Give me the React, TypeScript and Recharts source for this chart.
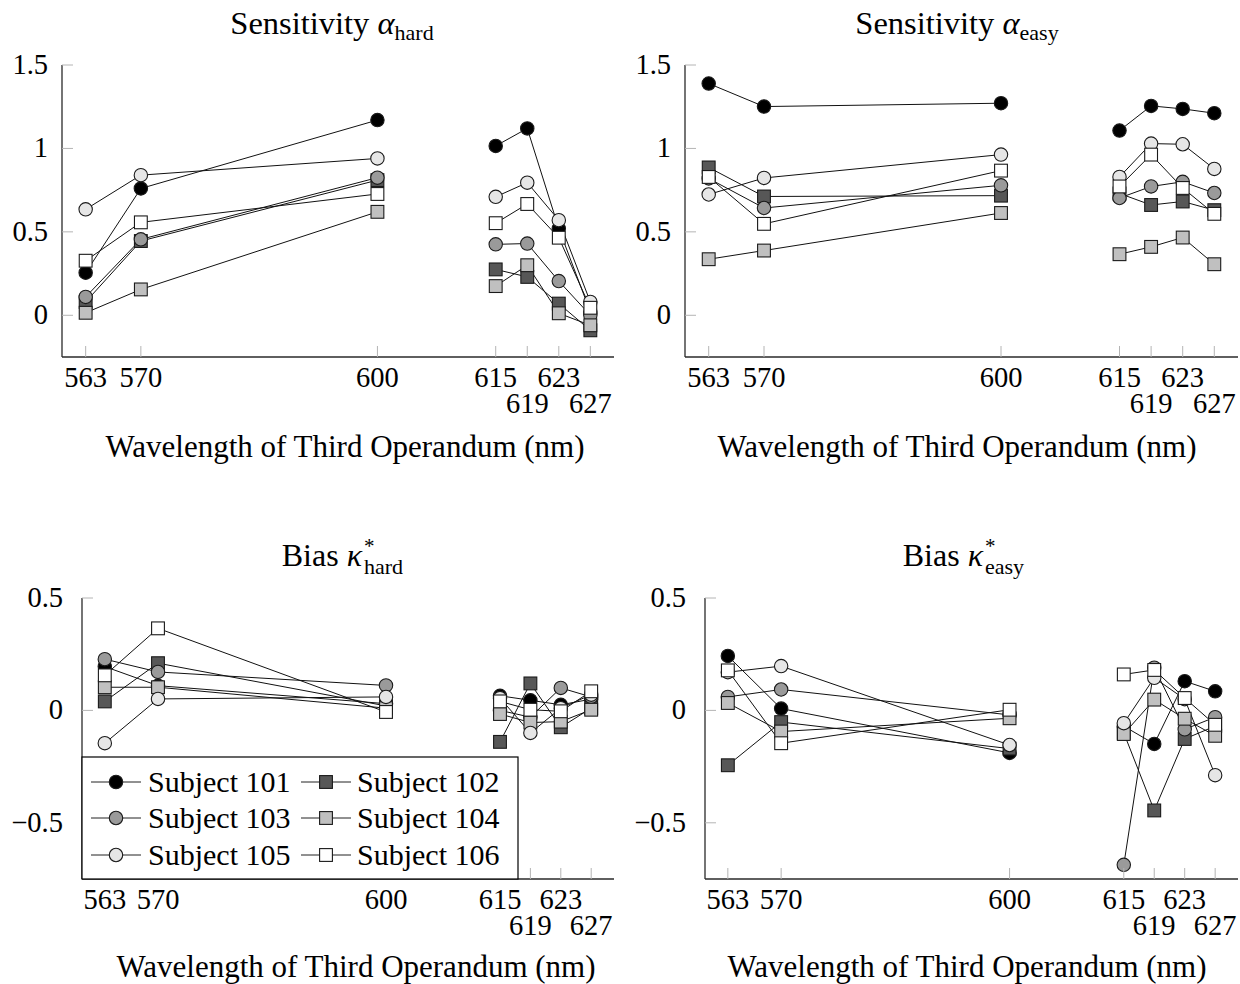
import React from 'react';
import { LineChart, Line, XAxis, YAxis } from 'recharts';

const wavelengths = [563, 570, 600, 615, 619, 623, 627];
const breakWavelength = 607;
const secondRowTicks = [619, 627];
const subjectNames = ['Subject 101', 'Subject 102', 'Subject 103', 'Subject 104', 'Subject 105', 'Subject 106'];
const markerShapes = ['circle', 'square', 'circle', 'square', 'circle', 'square'];
const markerFills = ['#000000', '#575757', '#9a9a9a', '#c0c0c0', '#e6e6e6', '#ffffff'];

// rows: Subject 101..106, columns: wavelengths
const alphaHard = [
  [0.255, 0.76, 1.17, 1.015, 1.12, 0.52, 0.02],
  [0.08, 0.445, 0.81, 0.275, 0.23, 0.07, -0.09],
  [0.11, 0.455, 0.825, 0.425, 0.43, 0.205, 0.0],
  [0.015, 0.155, 0.62, 0.175, 0.3, 0.012, -0.06],
  [0.635, 0.84, 0.94, 0.71, 0.795, 0.57, 0.08],
  [0.327, 0.557, 0.727, 0.552, 0.667, 0.465, 0.045],
];
const alphaEasy = [
  [1.389, 1.251, 1.271, 1.107, 1.255, 1.237, 1.211],
  [0.886, 0.712, 0.717, 0.73, 0.661, 0.682, 0.63],
  [0.82, 0.643, 0.779, 0.703, 0.772, 0.8, 0.733],
  [0.336, 0.388, 0.613, 0.366, 0.41, 0.466, 0.306],
  [0.724, 0.823, 0.963, 0.829, 1.029, 1.025, 0.877],
  [0.829, 0.548, 0.867, 0.772, 0.963, 0.763, 0.608],
];
const kappaHard = [
  [0.195, 0.11, 0.03, 0.065, 0.045, 0.025, 0.05],
  [0.04, 0.21, 0.02, -0.14, 0.12, -0.075, 0.01],
  [0.228, 0.171, 0.111, 0.0, -0.03, 0.1, 0.06],
  [0.103, 0.103, 0.01, -0.016, -0.054, -0.05, 0.003],
  [-0.146, 0.051, 0.06, 0.055, -0.1, 0.01, 0.07],
  [0.156, 0.365, -0.007, 0.04, 0.003, -0.004, 0.085],
];
const kappaEasy = [
  [0.242, 0.008, -0.189, -0.07, -0.149, 0.13, 0.085],
  [-0.244, -0.052, -0.17, -0.1, -0.445, -0.127, -0.07],
  [0.06, 0.093, -0.02, -0.687, 0.19, -0.084, -0.03],
  [0.033, -0.094, -0.035, -0.105, 0.048, -0.037, -0.113],
  [0.17, 0.197, -0.154, -0.057, 0.145, 0.05, -0.288],
  [0.178, -0.146, 0.003, 0.16, 0.18, 0.055, -0.064],
];

const alphaTicks = [0, 0.5, 1, 1.5];
const kappaTicks = [-0.5, 0, 0.5];
const alphaDomain: [number, number] = [-0.25, 1.5];
const kappaDomain: [number, number] = [-0.75, 0.5];
const xDomain: [number, number] = [560, 630];

const FONT = '"Liberation Serif", "Times New Roman", serif';

function buildRows(values: number[][]) {
  const rows: any[] = wavelengths.map((w, i) => {
    const r: any = { x: w };
    values.forEach((s, k) => {
      r['s' + k] = s[i];
    });
    return r;
  });
  rows.splice(3, 0, { x: breakWavelength });
  return rows;
}

function fmtY(v: number) {
  if (v === 0) return '0';
  return (v < 0 ? '\u2212' : '') + String(Math.abs(v));
}

const makeDot = (k: number) => (props: any) => {
  const { cx, cy, index } = props;
  const key = `d${k}-${index}`;
  if (cx == null || cy == null || Number.isNaN(cx) || Number.isNaN(cy)) return <g key={key} />;
  if (markerShapes[k] === 'circle') {
    return <circle key={key} cx={cx} cy={cy} r={6.7} fill={markerFills[k]} stroke="#1a1a1a" strokeWidth={1.1} />;
  }
  return (
    <rect key={key} x={cx - 6.4} y={cy - 6.4} width={12.8} height={12.8} fill={markerFills[k]} stroke="#1a1a1a" strokeWidth={1.1} />
  );
};

const XTick = (props: any) => {
  const { x, y, payload } = props;
  const second = secondRowTicks.includes(payload.value);
  return (
    <g>
      <line x1={x} x2={x} y1={y} y2={y - 11} stroke="#b4b4b4" strokeWidth={1} />
      <text x={x} y={y + (second ? 56 : 30)} textAnchor="middle" fontSize={28.5} fontFamily={FONT} fill="#000">
        {payload.value}
      </text>
    </g>
  );
};

const makeYTick = (gap: number) => (props: any) => {
  const { x, y, payload } = props;
  return (
    <g>
      <line x1={x} x2={x + 11} y1={y} y2={y} stroke="#b4b4b4" strokeWidth={1} />
      <text x={x - gap} y={y + 9} textAnchor="end" fontSize={28.5} fontFamily={FONT} fill="#000">
        {fmtY(payload.value)}
      </text>
    </g>
  );
};

type PanelProps = {
  x0: number;
  x1: number;
  y0: number;
  y1: number;
  values: number[][];
  domain: [number, number];
  ticks: number[];
  gap: number;
};

function Panel(p: PanelProps) {
  const cl = p.x0 - 80;
  const ct = p.y0 - 20;
  const yW = 40;
  const xH = 70;
  const width = p.x1 - cl + 12;
  const height = p.y1 - ct + xH + 4;
  const rows = buildRows(p.values);
  return (
    <div style={{ position: 'absolute', left: cl, top: ct, width, height }}>
      <LineChart width={width} height={height} data={rows} margin={{ left: 40, top: 20, right: 12, bottom: 4 }}>
        <XAxis
          type="number"
          dataKey="x"
          domain={xDomain}
          ticks={wavelengths}
          interval={0}
          tickSize={0}
          tickMargin={0}
          tickLine={false}
          tick={XTick}
          height={xH}
          allowDataOverflow
          axisLine={{ stroke: '#2a2a2a', strokeWidth: 1.3 }}
        />
        <YAxis
          type="number"
          domain={p.domain}
          ticks={p.ticks}
          interval={0}
          tickSize={0}
          tickMargin={0}
          tickLine={false}
          tick={makeYTick(p.gap)}
          width={yW}
          allowDataOverflow
          axisLine={{ stroke: '#2a2a2a', strokeWidth: 1.3 }}
        />
        {p.values.map((_, k) => (
          <Line
            key={k}
            dataKey={'s' + k}
            name={subjectNames[k]}
            stroke="#111"
            strokeWidth={1}
            dot={makeDot(k)}
            activeDot={false}
            connectNulls={false}
            isAnimationActive={false}
          />
        ))}
      </LineChart>
    </div>
  );
}

function LegendMarker({ k, cx, cy }: { k: number; cx: number; cy: number }) {
  return (
    <g>
      <line x1={cx - 25} x2={cx + 25} y1={cy} y2={cy} stroke="#222" strokeWidth={1} />
      {markerShapes[k] === 'circle' ? (
        <circle cx={cx} cy={cy} r={6.7} fill={markerFills[k]} stroke="#1a1a1a" strokeWidth={1.1} />
      ) : (
        <rect x={cx - 6.4} y={cy - 6.4} width={12.8} height={12.8} fill={markerFills[k]} stroke="#1a1a1a" strokeWidth={1.1} />
      )}
    </g>
  );
}

const panels = [
  { x0: 62, x1: 614, y0: 65, y1: 357, values: alphaHard, domain: alphaDomain, ticks: alphaTicks, gap: 14 },
  { x0: 685, x1: 1238, y0: 65, y1: 357, values: alphaEasy, domain: alphaDomain, ticks: alphaTicks, gap: 14 },
  { x0: 82, x1: 614, y0: 598, y1: 879, values: kappaHard, domain: kappaDomain, ticks: kappaTicks, gap: 19 },
  { x0: 705, x1: 1238, y0: 598, y1: 879, values: kappaEasy, domain: kappaDomain, ticks: kappaTicks, gap: 19 },
];

function BiasTitle({ x, sub }: { x: number; sub: string }) {
  return (
    <g>
      <text x={x} y={566} textAnchor="end" fontSize={32}>
        Bias <tspan fontStyle="italic">κ</tspan>
      </text>
      <text x={x + 2} y={553} textAnchor="start" fontSize={21}>*</text>
      <text x={x + 2} y={574} textAnchor="start" fontSize={22}>{sub}</text>
    </g>
  );
}

export default function App() {
  const legendRows = [782, 818, 855];
  return (
    <div style={{ position: 'absolute', left: 0, top: 0, width: 1240, height: 984, background: '#fff', overflow: 'hidden' }}>
      {panels.map((p, i) => (
        <Panel key={i} {...p} />
      ))}
      <svg width={1240} height={984} style={{ position: 'absolute', left: 0, top: 0, pointerEvents: 'none' }} fontFamily={FONT}>
        {/* titles */}
        <text x={332} y={34} textAnchor="middle" fontSize={32.5}>
          Sensitivity <tspan fontStyle="italic">α</tspan>
          <tspan fontSize={22} dy={6}>hard</tspan>
        </text>
        <text x={957} y={34} textAnchor="middle" fontSize={32.5}>
          Sensitivity <tspan fontStyle="italic">α</tspan>
          <tspan fontSize={22} dy={6}>easy</tspan>
        </text>
        <BiasTitle x={362} sub="hard" />
        <BiasTitle x={983} sub="easy" />
        {/* x axis labels */}
        <text x={345} y={457} textAnchor="middle" fontSize={31}>Wavelength of Third Operandum (nm)</text>
        <text x={957} y={457} textAnchor="middle" fontSize={31}>Wavelength of Third Operandum (nm)</text>
        <text x={356} y={977} textAnchor="middle" fontSize={31}>Wavelength of Third Operandum (nm)</text>
        <text x={967} y={977} textAnchor="middle" fontSize={31}>Wavelength of Third Operandum (nm)</text>
        {/* legend */}
        <rect x={82} y={757} width={436} height={122} fill="#fff" stroke="#000" strokeWidth={1.2} />
        {legendRows.map((cy, r) => (
          <g key={r}>
            <LegendMarker k={r * 2} cx={116} cy={cy} />
            <text x={148} y={cy + 10} fontSize={30}>{subjectNames[r * 2]}</text>
            <LegendMarker k={r * 2 + 1} cx={326} cy={cy} />
            <text x={357} y={cy + 10} fontSize={30}>{subjectNames[r * 2 + 1]}</text>
          </g>
        ))}
      </svg>
    </div>
  );
}
